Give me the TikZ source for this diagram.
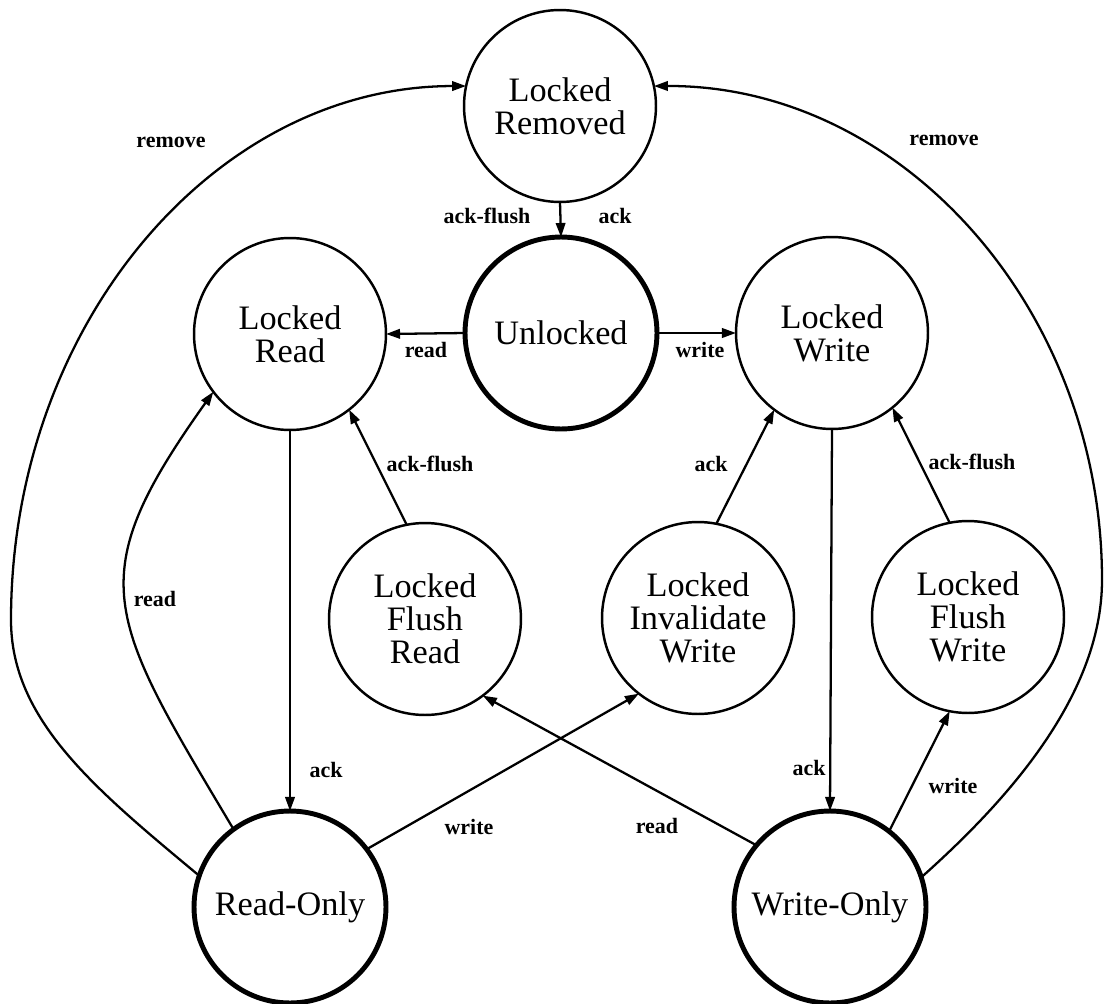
\documentclass[tikz,border=0pt]{standalone}
\usepackage{fontspec}
\setmainfont{Liberation Serif}
\usetikzlibrary{arrows.meta}
\begin{document}
\begin{tikzpicture}[x=0.02cm,y=-0.02cm,
  state/.style={circle,draw,line width=1.4pt,minimum size=3.84cm,inner sep=0pt,
    outer sep=0pt,align=center,font=\fontsize{19.5}{18.7}\selectfont},
  home/.style={state,line width=2.8pt},
  trans/.style={line width=1.3pt,-{Triangle[length=8pt,width=5.4pt]}},
  lbl/.style={font=\fontsize{12.5}{13}\selectfont\bfseries,inner sep=0pt}]
\useasboundingbox (0,0) rectangle (1106,1004);

% states
\node[state] (lrem) at (560,106) {Locked\\Removed};
\node[home]  (unl)  at (561,333) {Unlocked};
\node[state] (lr)   at (290,334) {Locked\\Read};
\node[state] (lw)   at (832,333) {Locked\\Write};
\node[state] (lfr)  at (425,619) {Locked\\Flush\\Read};
\node[state] (liw)  at (698,618) {Locked\\Invalidate\\Write};
\node[state] (lfw)  at (968,617) {Locked\\Flush\\Write};
\node[home]  (ro)   at (290,907) {Read-Only};
\node[home]  (wo)   at (830,907) {Write-Only};

% transitions
\draw[trans] (lrem.south) -- (unl.north);
\draw[trans] (unl.west) -- (lr.east);
\draw[trans] (unl.east) -- (lw.west);
\draw[trans] (lr.south) -- (ro.north);
\draw[trans] (lw.south) -- (wo.north);
\draw[trans] (lfr.101) -- (lr.-52);
\draw[trans] (liw.79) -- (lw.233);
\draw[trans] (lfw.101) -- (lw.-51);
\draw[trans] (ro.37) -- (liw.232);
\draw[trans] (wo.140) -- (lfr.-53);
\draw[trans] (wo.52) -- (lfw.259);
\draw[trans] (ro.126) .. controls (106,615) and (80,579) .. (lr.217);
\draw[trans] (ro.161) .. controls (95,789) and (11,720) .. (11,620)
  .. controls (11,326) and (214,86) .. (lrem.168);
\draw[trans] (wo.18) .. controls (999,808) and (1102,700) .. (1102,580)
  .. controls (1102,308) and (901,85) .. (lrem.12);

% transition labels
\node[lbl] (t1)  at (487,216) {ack-flush};
\node[lbl] (t2)  at (615,216) {ack};
\node[lbl] (t3)  at (426,350) {read};
\node[lbl] (t4)  at (700,350) {write};
\node[lbl] (t5)  at (326,770) {ack};
\node[lbl] (t6)  at (430,464) {ack-flush};
\node[lbl] (t7)  at (155,599) {read};
\node[lbl] (t8)  at (171,142) {remove};
\node[lbl] (t9)  at (944,140) {remove};
\node[lbl] (t10) at (469,827) {write};
\node[lbl] (t11) at (657,826) {read};
\node[lbl] (t12) at (711,464) {ack};
\node[lbl] (t13) at (809,768) {ack};
\node[lbl] (t14) at (972,462) {ack-flush};
\node[lbl] (t15) at (953,786) {write};
\end{tikzpicture}
\end{document}
